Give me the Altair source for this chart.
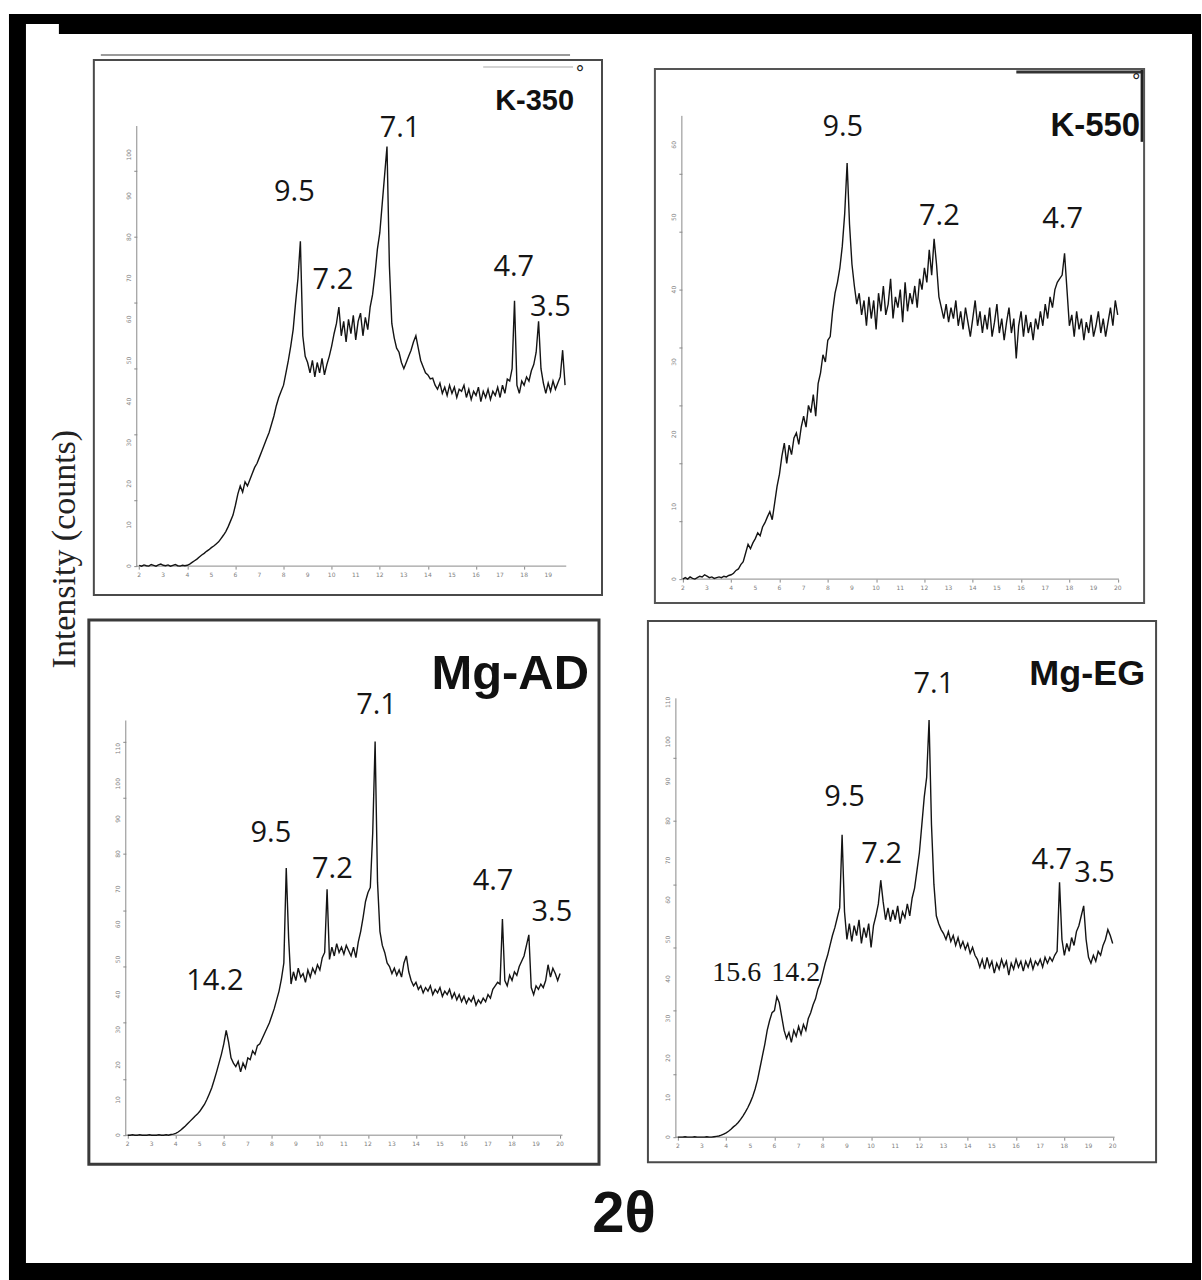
import altair as alt
import pandas as pd

# ------------------------------------------------------------------ data
X_START = 2.0   # first 2-theta value of every scan
X_STEP = 0.1    # 2-theta step of the scans

k350_counts = [
    0.2, 0.0, 0.3, 0.1, 0.0, 0.4, 0.2, 0.0, 0.3, 0.5,
    0.2, 0.1, 0.3, 0.0, 0.2, 0.4, 0.1, 0.0, 0.2, 0.1,
    0.2, 0.5, 0.9, 1.3, 1.7, 2.2, 2.7, 3.1, 3.6, 4.0,
    4.5, 4.9, 5.4, 5.9, 6.7, 7.5, 8.4, 9.6, 11.0, 12.4,
    14.8, 17.5, 19.5, 18.0, 20.5, 19.5, 21.0, 22.5, 24.0, 25.0,
    26.5, 28.0, 29.5, 31.0, 32.5, 34.5, 36.5, 39.0, 41.0, 42.5,
    44.0, 47.0, 50.0, 53.5, 57.5, 64.0, 70.0, 79.0, 56.0, 51.0,
    49.5, 47.0, 50.0, 46.0, 49.5, 47.0, 50.5, 46.5, 49.0, 51.0,
    53.5, 56.5, 59.0, 63.0, 56.0, 59.5, 54.5, 60.0, 56.5, 61.0,
    55.0, 59.5, 61.5, 56.0, 60.5, 57.5, 63.0, 66.0, 71.0, 77.0,
    81.0, 88.0, 95.0, 102.0, 73.0, 59.0, 55.5, 53.0, 52.0, 49.5,
    48.0, 49.5, 51.0, 52.5, 54.5, 56.0, 53.0, 50.0, 48.5, 47.0,
    46.5, 45.5, 45.7, 44.0, 43.0, 44.5, 42.0, 43.5, 41.5, 44.0,
    42.0, 43.5, 41.0, 43.0, 42.5, 44.0, 41.0, 43.0, 40.5, 42.5,
    41.5, 43.5, 40.0, 42.5, 41.0, 43.0, 40.5, 42.5, 41.5, 43.5,
    41.0, 44.0, 42.0, 45.5, 45.0, 48.0, 64.5, 44.0, 42.0, 45.0,
    44.0, 46.0, 45.0, 47.5, 49.0, 52.0, 59.5, 48.0, 44.5, 42.0,
    44.5, 42.5, 45.0, 43.0, 44.5, 46.0, 52.5, 44.0,
]

k550_counts = [
    0.0, 0.2, 0.0, 0.3, 0.1, 0.0, 0.2, 0.4, 0.3, 0.6,
    0.4, 0.2, 0.3, 0.1, 0.2, 0.3, 0.2, 0.4, 0.3, 0.5,
    0.6, 0.8, 1.2, 1.4, 2.0, 2.4, 3.6, 4.8, 4.2, 5.0,
    5.6, 6.4, 6.0, 7.2, 7.8, 8.6, 9.3, 8.2, 10.5, 12.8,
    14.5, 17.0, 18.8, 16.0, 18.5, 17.2, 19.5, 20.2, 18.6, 21.0,
    22.5, 21.0, 24.0, 23.0, 25.5, 22.5, 27.0, 28.5, 31.0, 30.0,
    33.0, 33.5, 37.0, 39.5, 41.0, 43.0, 46.0, 50.5, 57.5, 49.0,
    43.5, 40.5, 38.0, 39.5, 36.5, 38.5, 35.0, 39.0, 36.0, 38.5,
    34.5, 39.5, 37.0, 40.5, 36.5, 38.0, 41.5, 36.0, 39.0, 37.5,
    40.0, 35.5, 41.0, 37.0, 39.5, 38.0, 40.5, 37.5, 41.5, 40.0,
    43.0, 41.0, 45.5, 42.0, 47.0, 43.5, 39.0, 37.5, 36.0, 38.0,
    35.5, 37.5, 36.0, 38.5, 35.0, 37.0, 34.5, 37.5, 35.5, 33.5,
    36.0, 38.5, 35.0, 37.0, 34.0, 36.5, 34.5, 37.5, 33.5, 35.5,
    38.0, 34.0, 36.0, 33.0, 35.5, 37.5, 34.0, 36.0, 30.5, 35.0,
    37.0, 33.5, 36.5, 34.0, 35.5, 33.0, 36.0, 34.5, 37.0, 35.0,
    38.0, 36.0, 39.0, 37.5, 40.0, 41.0, 41.5, 42.0, 45.0, 40.0,
    35.0, 36.5, 33.5, 37.0, 34.5, 36.0, 33.0, 35.5, 34.0, 36.5,
    33.5, 35.0, 37.0, 34.0, 36.0, 33.5, 35.5, 37.5, 35.0, 38.5,
    36.5,
]

mgad_counts = [
    0.0, 0.0, 0.1, 0.0, 0.0, 0.1, 0.0, 0.0, 0.0, 0.1,
    0.0, 0.0, 0.0, 0.1, 0.0, 0.0, 0.1, 0.0, 0.2, 0.3,
    0.5, 0.9, 1.4, 2.0, 2.6, 3.3, 4.0, 4.7, 5.4, 6.0,
    6.8, 7.8, 8.8, 10.2, 11.8, 13.5, 15.7, 18.0, 20.5, 23.0,
    26.0, 29.8, 26.5, 22.0, 20.5, 19.5, 21.0, 18.0, 20.5, 19.0,
    22.0, 21.5, 24.0, 23.0, 25.5, 26.0, 27.5, 29.0, 30.5, 32.0,
    34.0, 36.0, 38.5, 41.0, 44.5, 49.0, 76.0, 56.0, 43.0, 46.5,
    44.0, 47.5, 45.0, 46.0, 43.5, 47.0, 45.0, 47.5, 46.0, 48.5,
    47.0, 50.5, 52.0, 70.0, 50.0, 53.5, 51.0, 54.5, 52.0, 53.5,
    51.5, 54.0, 52.5, 51.0, 53.5, 50.5, 55.0, 58.0, 62.0, 66.5,
    69.0, 70.5, 86.0, 112.0, 72.0, 58.0, 54.0, 52.0, 49.0, 48.0,
    46.0, 47.5, 45.5, 47.0, 45.0, 49.0, 51.0, 46.5, 44.0, 42.5,
    43.5, 41.5, 42.5, 40.5, 42.0, 41.0, 42.5, 40.0, 41.5, 40.5,
    42.0, 39.5, 41.0, 40.0, 41.5, 39.0, 40.5, 38.5, 40.0, 38.0,
    39.5, 37.5, 39.0, 38.0, 39.5, 37.0, 38.5, 37.5, 39.0, 38.0,
    40.0, 39.0, 41.5, 42.5, 43.5, 43.0, 61.5, 44.0, 42.5, 45.5,
    44.0, 46.5, 45.5, 48.0, 49.5, 51.0, 54.0, 57.0, 42.0, 40.0,
    42.5, 41.5, 43.0, 42.0, 44.0, 48.5, 45.0, 47.5, 46.0, 44.0,
    46.0,
]

mgeg_counts = [
    0.0, 0.0, 0.0, 0.1, 0.0, 0.0, 0.0, 0.1, 0.0, 0.0,
    0.0, 0.0, 0.1, 0.0, 0.0, 0.1, 0.2, 0.3, 0.5, 0.8,
    1.1, 1.5, 2.0, 2.6, 3.1, 3.7, 4.5, 5.4, 6.4, 7.5,
    8.8, 10.3, 12.2, 14.5, 17.5, 20.5, 23.5, 27.0, 29.5, 31.5,
    32.0, 35.5, 34.0, 30.5, 27.0, 25.0, 26.5, 24.0, 27.0, 25.5,
    28.0, 26.0, 28.5, 27.0, 30.0, 31.5, 33.5, 35.0, 37.5, 39.0,
    41.5, 44.0, 46.0, 48.5, 51.0, 53.0, 55.5, 58.0, 76.5, 57.0,
    50.0, 54.0, 49.5, 53.5, 51.0, 55.0, 49.0, 53.0, 50.5, 54.0,
    48.0, 53.5, 56.0, 59.0, 65.0, 59.5, 55.0, 58.0, 54.5, 57.5,
    55.0, 58.5, 54.0, 57.0, 55.5, 59.0, 56.0, 60.5, 63.0, 67.5,
    72.0, 79.0, 86.0, 91.0, 105.5, 79.0, 64.0, 56.0, 54.0, 52.5,
    51.5, 50.0, 52.0, 49.5, 51.0, 48.5, 50.5, 48.0, 49.5, 47.5,
    49.0, 46.5, 48.0, 46.0, 45.0, 43.0, 45.0, 42.5, 45.5, 43.0,
    44.5, 41.5, 44.0, 42.5, 45.0, 43.0, 44.5, 41.0, 44.0, 42.5,
    45.0, 43.0, 44.5, 42.0, 44.5, 43.0, 45.0, 42.5, 44.5, 43.5,
    45.0, 43.0, 45.5, 44.0, 45.5, 44.5, 46.0, 47.0, 64.5, 50.0,
    46.0, 49.0, 47.0, 50.5, 48.5, 52.0, 53.5, 56.0, 58.5, 50.0,
    45.5, 44.0, 46.0, 44.5, 47.0, 46.0, 48.5, 50.0, 52.5, 51.0,
    49.0,
]

# peak annotations (d-spacing in angstrom), placed in data units
k350_peak_text = ["9.5", "7.2", "7.1", "4.7", "3.5"]
k350_peak_x = [8.45, 10.05, 12.84, 17.57, 19.09]
k350_peak_y = [91.0, 69.5, 106.5, 72.6, 62.9]

k550_peak_text = ["9.5", "7.2", "4.7"]
k550_peak_x = [8.62, 12.62, 17.72]
k550_peak_y = [62.4, 50.1, 49.7]

mgad_peak_text = ["14.2", "9.5", "7.2", "7.1", "4.7", "3.5"]
mgad_peak_x = [5.63, 7.96, 10.52, 12.36, 17.21, 19.66]
mgad_peak_y = [43.8, 86.1, 75.8, 122.4, 72.4, 63.4]

mgeg_peak_text = ["9.5", "7.2", "7.1", "4.7", "3.5"]
mgeg_peak_x = [8.90, 10.44, 12.60, 17.48, 19.25]
mgeg_peak_y = [86.0, 71.6, 114.6, 70.2, 66.7]
mgeg_serif_text = ["15.6", "14.2"]
mgeg_serif_x = [4.44, 6.88]
mgeg_serif_y = [41.5, 41.5]

# axis tick labels
k350_x_ticks = list(range(2, 20))
k550_x_ticks = list(range(2, 21))
mgad_x_ticks = list(range(2, 21))
mgeg_x_ticks = list(range(2, 21))
k350_y_ticks = list(range(0, 101, 10))
k550_y_ticks = list(range(0, 61, 10))
mgad_y_ticks = list(range(0, 111, 10))
mgeg_y_ticks = list(range(0, 111, 10))

y_axis_title = "Intensity (counts)"
x_axis_title = "2θ"

# ------------------------------------------------------------------ layout (canvas pixels)
COL_X = [120, 672]
ROW_Y = [100, 688]
CELL_W = 452
ROW_H = [478, 449]

GEOM = {
    "K-350": dict(cx=COL_X[0], cy=ROW_Y[0], h=ROW_H[0], ax=136, ay=565, x0=1.9, xppu=24.1,
                  yppu=4.12, x_end=19.75, y_top=107, ymin_step=2,
                  box=(93, 58, 602, 594), box_w=2, box_c="#4a4a4a",
                  title_font="Liberation Sans", title_size=29, title_x=574, title_y=108,
                  deg=(580, 72)),
    "K-550": dict(cx=COL_X[1], cy=ROW_Y[0], h=ROW_H[0], ax=682, ay=578, x0=1.96, xppu=24.2,
                  yppu=7.25, x_end=20.05, y_top=64, ymin_step=1,
                  box=(655, 67, 1145, 602), box_w=2, box_c="#555555",
                  title_font="Liberation Sans", title_size=33, title_x=1141, title_y=134,
                  deg=(1137, 80)),
    "Mg-AD": dict(cx=COL_X[0], cy=ROW_Y[1], h=ROW_H[1], ax=125, ay=1135, x0=1.92, xppu=24.06,
                  yppu=3.52, x_end=20.1, y_top=118, ymin_step=2,
                  box=(88, 619, 599, 1164), box_w=3, box_c="#3a3a3a",
                  title_font="Liberation Sans", title_size=49,
                  title_x=589, title_y=688, deg=None),
    "Mg-EG": dict(cx=COL_X[1], cy=ROW_Y[1], h=ROW_H[1], ax=676, ay=1137, x0=1.92, xppu=24.2,
                  yppu=3.96, x_end=20.08, y_top=111, ymin_step=2,
                  box=(648, 620, 1157, 1162), box_w=2, box_c="#4a4a4a",
                  title_font="Liberation Sans", title_size=36,
                  title_x=1146, title_y=684, deg=None),
}

ONE = pd.DataFrame({"k": [0]})
INK = "#141414"
TICK_GREY = "#7a7a7a"


def rect(g, x1, y1, x2, y2, **mark):
    return alt.Chart(ONE).mark_rect(**mark).encode(
        x=alt.value(x1 - g["cx"]), x2=alt.value(x2 - g["cx"]),
        y=alt.value(y1 - g["cy"]), y2=alt.value(y2 - g["cy"]))


def rule(g, x1, y1, x2, y2, **mark):
    return alt.Chart(ONE).mark_rule(**mark).encode(
        x=alt.value(x1 - g["cx"]), x2=alt.value(x2 - g["cx"]),
        y=alt.value(y1 - g["cy"]), y2=alt.value(y2 - g["cy"]))


def label(g, x, y, text, **mark):
    return alt.Chart(ONE).mark_text(text=text, **mark).encode(
        x=alt.value(x - g["cx"]), y=alt.value(y - g["cy"]))


def panel(name, counts, peaks, x_ticks, y_ticks, extra=(), serif_peaks=None):
    g = GEOM[name]
    cx, cy, h = g["cx"], g["cy"], g["h"]
    ax, ay, x0, xppu, yppu = g["ax"], g["ay"], g["x0"], g["xppu"], g["yppu"]
    xdom = [x0 - (ax - cx) / xppu, x0 + (cx + CELL_W - ax) / xppu]
    ydom = [-(cy + h - ay) / yppu, (ay - cy) / yppu]
    xs = alt.Scale(domain=xdom, nice=False, zero=False)
    ys = alt.Scale(domain=ydom, nice=False, zero=False)

    n_half = int(round((g["x_end"] - 2.0) * 2))
    x_minor = [2.0 + 0.5 * i for i in range(n_half + 1)]
    y_minor = list(range(0, int(g["y_top"]), g["ymin_step"]))

    xaxis = alt.Axis(values=x_minor, title="", domain=False, grid=False, labels=False,
                     tickSize=3, tickColor=TICK_GREY, tickWidth=0.9,
                     offset=-(cy + h - ay))
    yaxis = alt.Axis(values=y_minor, title="", domain=False, grid=False, labels=False,
                     tickSize=3, tickColor=TICK_GREY, tickWidth=0.9,
                     offset=-(ax - cx))

    scan = pd.DataFrame({
        "two_theta": [round(X_START + X_STEP * i, 2) for i in range(len(counts))],
        "counts": counts,
    })

    layers = list(extra)
    bx1, by1, bx2, by2 = g["box"]
    layers.append(rect(g, bx1, by1, bx2, by2, fillOpacity=0, stroke=g["box_c"],
                       strokeWidth=g["box_w"]))
    # axis lines
    x_end_px = ax + (g["x_end"] - x0) * xppu
    y_top_px = ay - g["y_top"] * yppu
    layers.append(rule(g, ax, ay, ax, y_top_px, color="#8a8a8a", strokeWidth=1))
    layers.append(rule(g, ax, ay, x_end_px, ay, color="#8a8a8a", strokeWidth=1))

    layers.append(alt.Chart(scan).mark_line(color=INK, strokeWidth=1.4).encode(
        x=alt.X("two_theta:Q", scale=xs, axis=xaxis),
        y=alt.Y("counts:Q", scale=ys, axis=yaxis)))

    # tick labels (tiny, grey) placed through the scales
    xt = pd.DataFrame({"two_theta": x_ticks, "lab": [str(v) for v in x_ticks]})
    layers.append(alt.Chart(xt).mark_text(font="DejaVu Sans", fontSize=6, color="#808080",
                                          baseline="top").encode(
        x=alt.X("two_theta:Q", scale=xs), y=alt.value(ay - cy + 6), text="lab:N"))
    yt = pd.DataFrame({"counts": y_ticks, "lab": [str(v) for v in y_ticks]})
    layers.append(alt.Chart(yt).mark_text(font="DejaVu Sans", fontSize=6, color="#808080",
                                          angle=270, baseline="bottom").encode(
        y=alt.Y("counts:Q", scale=ys), x=alt.value(ax - cx - 5), text="lab:N"))

    ptext, px, py = peaks
    pk = pd.DataFrame({"label": ptext, "two_theta": px, "counts": py})
    layers.append(alt.Chart(pk).mark_text(font="Open Sans", fontSize=29, color="#151515").encode(
        x=alt.X("two_theta:Q", scale=xs), y=alt.Y("counts:Q", scale=ys), text="label:N"))
    if serif_peaks is not None:
        st, sx, sy = serif_peaks
        sp = pd.DataFrame({"label": st, "two_theta": sx, "counts": sy})
        layers.append(alt.Chart(sp).mark_text(font="Liberation Serif", fontSize=28,
                                              color="#151515").encode(
            x=alt.X("two_theta:Q", scale=xs), y=alt.Y("counts:Q", scale=ys), text="label:N"))

    layers.append(label(g, g["title_x"], g["title_y"], name, font=g["title_font"],
                        fontSize=g["title_size"], fontWeight="bold", color="#111111",
                        align="right", baseline="alphabetic"))
    if g["deg"] is not None:
        layers.append(label(g, g["deg"][0], g["deg"][1], "°", font="DejaVu Sans",
                            fontSize=19, color="#222222", align="center", baseline="middle"))

    return alt.layer(*layers).properties(width=CELL_W, height=h)


g1 = GEOM["K-350"]
g2 = GEOM["K-550"]
g3 = GEOM["Mg-AD"]

frame = [
    rect(g1, 8, 12, 1202, 22, color="black"),
    rect(g1, 58, 22, 1202, 32, color="black"),
    rect(g1, 8, 12, 25, 1280, color="black"),
    rect(g1, 1193, 12, 1202, 1280, color="black"),
    rect(g1, 8, 1263, 1202, 1280, color="black"),
    rule(g1, 100, 53, 570, 53, color="#9a9a9a", strokeWidth=2),
    rule(g1, 483, 65, 573, 65, color="#c4c4c4", strokeWidth=1.5),
    label(g1, 64, 548, y_axis_title, font="Liberation Serif", fontSize=34, color="#222222",
          angle=270, align="center", baseline="middle"),
]

k550_extra = [
    rule(g2, 1017, 70, 1145, 70, color="#333333", strokeWidth=3),
    rule(g2, 1143, 67, 1143, 140, color="#222222", strokeWidth=3),
]

mgad_extra = [
    label(g3, 624, 1232, x_axis_title, font="Liberation Sans",
          fontSize=58, fontWeight="bold", color="#111111", align="center",
          baseline="alphabetic"),
]

p1 = panel("K-350", k350_counts, (k350_peak_text, k350_peak_x, k350_peak_y),
           k350_x_ticks, k350_y_ticks, extra=frame)
p2 = panel("K-550", k550_counts, (k550_peak_text, k550_peak_x, k550_peak_y),
           k550_x_ticks, k550_y_ticks, extra=k550_extra)
p3 = panel("Mg-AD", mgad_counts, (mgad_peak_text, mgad_peak_x, mgad_peak_y),
           mgad_x_ticks, mgad_y_ticks, extra=mgad_extra)
p4 = panel("Mg-EG", mgeg_counts, (mgeg_peak_text, mgeg_peak_x, mgeg_peak_y),
           mgeg_x_ticks, mgeg_y_ticks,
           serif_peaks=(mgeg_serif_text, mgeg_serif_x, mgeg_serif_y))

chart = alt.concat(
    p1, p2, p3, p4, columns=2,
    spacing={"row": ROW_Y[1] - ROW_Y[0] - ROW_H[0], "column": COL_X[1] - COL_X[0] - CELL_W},
    bounds="flush",
).properties(
    padding={"left": 8, "top": 12, "right": 0, "bottom": 0},
    background="white",
).configure_view(stroke="transparent")

chart.save("out.html", embed_options={"renderer": "svg", "actions": False})
